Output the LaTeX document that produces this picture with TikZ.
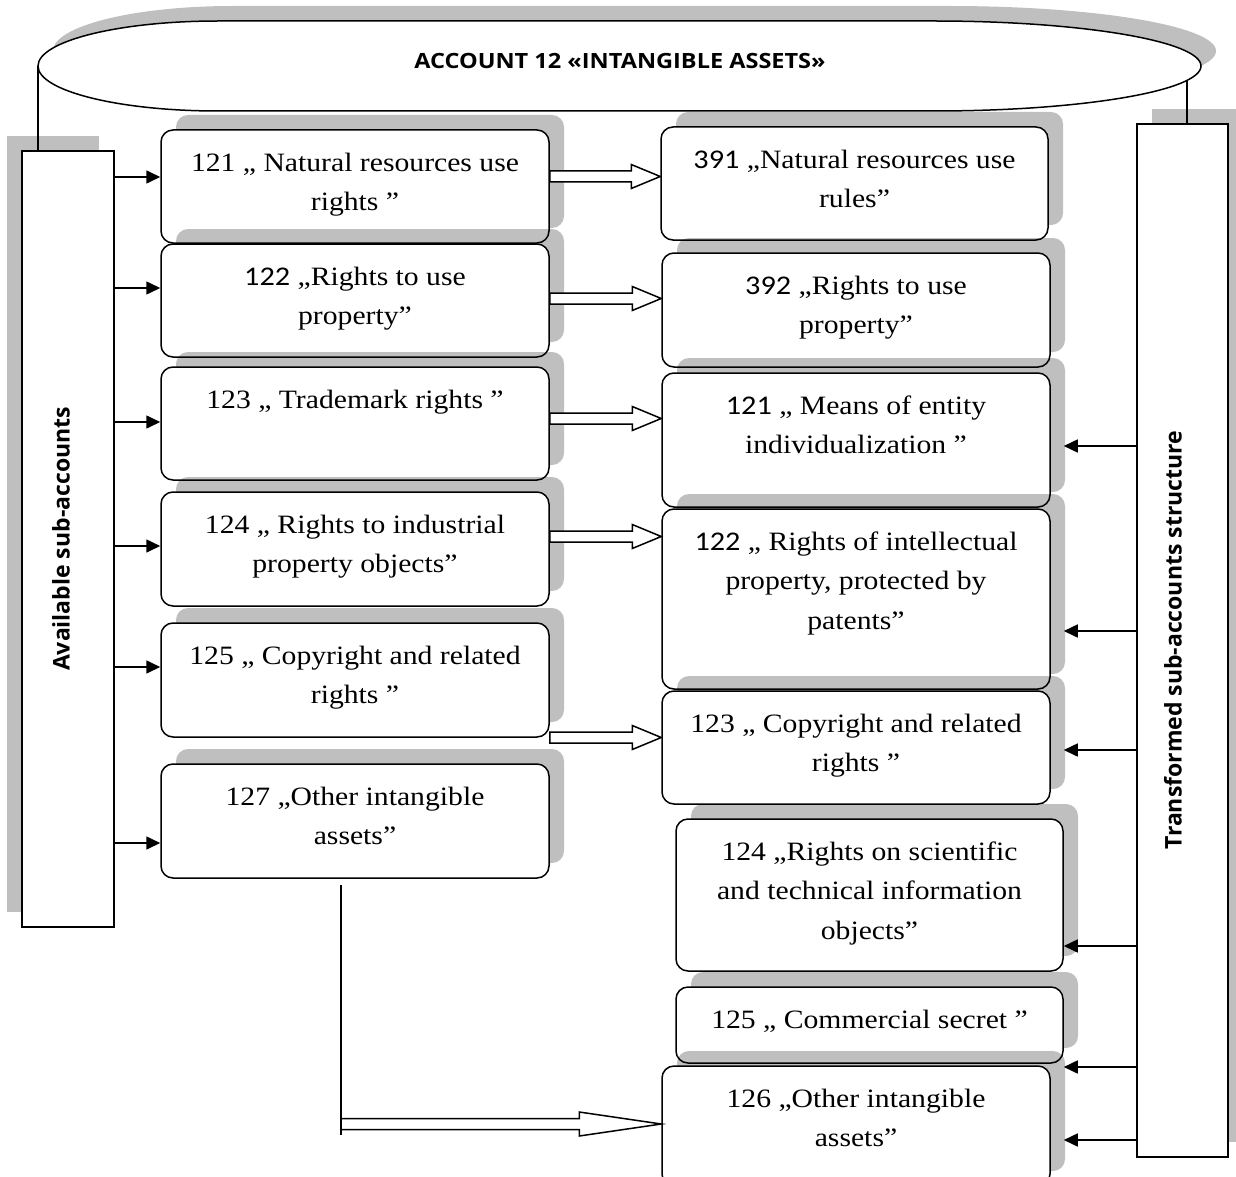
\documentclass[tikz,border=0pt]{standalone}
\usepackage{fontspec}
\setmainfont{Liberation Serif}[FakeStretch=1.12]
\newfontfamily\numfont{Carlito}[FakeStretch=1.12]
\newfontfamily\titlefont{Open Sans}[FakeStretch=1.12]
\newfontfamily\sidefont{Open Sans}
\usetikzlibrary{arrows.meta,calc}
\newcommand\nf[1]{{\numfont\fontsize{27}{39.5}\selectfont #1}}
\newcommand\cbox[6]{%
  \fill[shade] (#2+15,#3-15) rectangle (#4+15,#5-15);
  \node[box, minimum width={#4-#2}, minimum height={#5-#3}] (#1) at ({(#2+#4)/2},{(#3+#5)/2}) {};
  \node[txt] (#1t) at ($(#1.north)+(0,14)$) {\strut #6};
}
\newcommand\blockarr[3]{%
  \draw[barrow] ($(#1)+(0,-5.5)$) -- ($(#2)+(-#3,-5.5)$) -- ($(#2)+(-#3,-12)$) -- (#2)
    -- ($(#2)+(-#3,12)$) -- ($(#2)+(-#3,5.5)$) -- ($(#1)+(0,5.5)$) -- cycle;
}
\begin{document}
\begin{tikzpicture}[x=1pt,y=-1pt,
  box/.style={draw, line width=1.5pt, rounded corners=12pt, fill=white, inner sep=0pt},
  shade/.style={fill=black, fill opacity=0.25, draw=none, rounded corners=12pt},
  bigbox/.style={draw, line width=1.5pt, fill=white, inner sep=0pt},
  txt/.style={anchor=north, inner sep=0pt, align=center, font=\fontsize{26.5}{39.5}\selectfont},
  arr/.style={line width=1.6pt, -{Triangle[length=14pt,width=13pt]}},
  barrow/.style={draw, line width=1.5pt, fill=white, line join=miter},
  conn/.style={line width=1.5pt},
  side/.style={rotate=90, inner sep=0pt, font=\sidefont\bfseries\fontsize{23}{28}\selectfont},
  titlest/.style={inner sep=0pt, font=\titlefont\bfseries\fontsize{21}{25}\selectfont}]
\useasboundingbox (0,0) rectangle (1236,1177);
\clip (0,0) rectangle (1236,1177);
% ellipse
\fill[black, fill opacity=0.25, shift={(15,-15)}] (218,21) -- (934,21)
  arc[start angle=-90,end angle=90,x radius=267,y radius=45] -- (218,111)
  arc[start angle=90,end angle=270,x radius=180,y radius=45] -- cycle;
\draw[conn, fill=white] (218,21) -- (934,21)
  arc[start angle=-90,end angle=90,x radius=267,y radius=45] -- (218,111)
  arc[start angle=90,end angle=270,x radius=180,y radius=45] -- cycle;
\node[titlest] (title) at (620,61) {ACCOUNT 12 «INTANGIBLE ASSETS»};
\coordinate (ellL) at (38,66);
\coordinate (ellR) at (1187,81);
% big side boxes
\fill[black, fill opacity=0.25] (7,136) rectangle (99,912);
\node[bigbox, minimum width=92, minimum height=776] (avail) at (68,539) {};
\fill[black, fill opacity=0.25] (1152,109) rectangle (1243,1142);
\node[bigbox, minimum width=91, minimum height=1033] (trans) at (1182.5,640.5) {};
\draw[conn] (ellL) -- (ellL |- avail.north);
\draw[conn] (ellR) -- (ellR |- trans.north);
\node[side] (availt) at (61,539) {Available sub-accounts};
\node[side] (transt) at (1173,640) {Transformed sub-accounts structure};
% left column
\cbox{L1}{161}{130}{549}{243}{121 „ Natural resources use\\rights ”}
\cbox{L2}{161}{244}{549}{357}{\nf{122} „Rights to use\\property”}
\cbox{L3}{161}{367}{549}{480}{123 „ Trademark rights ”}
\cbox{L4}{161}{492}{549}{606}{124 „ Rights to industrial\\property objects”}
\cbox{L5}{161}{623}{549}{737}{125 „ Copyright and related\\rights ”}
\cbox{L7}{161}{764}{549}{878}{127 „Other intangible\\assets”}
% right column
\cbox{R1}{661}{127}{1048}{240}{\nf{391} „Natural resources use\\rules”}
\cbox{R2}{662}{253}{1050}{367}{\nf{392} „Rights to use\\property”}
\cbox{R3}{662}{373}{1050}{507}{\nf{121} „ Means of entity\\individualization ”}
\cbox{R4}{662}{509}{1050}{689}{\nf{122} „ Rights of intellectual\\property, protected by\\patents”}
\cbox{R5}{662}{691}{1050}{804}{123 „ Copyright and related\\rights ”}
\cbox{R6}{676}{819}{1063}{971}{124 „Rights on scientific\\and technical information\\objects”}
\cbox{R7}{676}{987}{1063}{1063}{125 „ Commercial secret ”}
\cbox{R8}{662}{1066}{1050}{1186}{126 „Other intangible\\assets”}
% left arrows
\draw[arr] (avail.east |- 0,177) -- (L1.west |- 0,177);
\draw[arr] (avail.east |- 0,288) -- (L2.west |- 0,288);
\draw[arr] (avail.east |- 0,422) -- (L3.west |- 0,422);
\draw[arr] (avail.east |- 0,546) -- (L4.west |- 0,546);
\draw[arr] (avail.east |- 0,667) -- (L5.west |- 0,667);
\draw[arr] (avail.east |- 0,843) -- (L7.west |- 0,843);
% right arrows
\draw[arr] (trans.west |- 0,446) -- ($(R3.east |- 0,446)+(13,0)$);
\draw[arr] (trans.west |- 0,631) -- ($(R4.east |- 0,631)+(13,0)$);
\draw[arr] (trans.west |- 0,750) -- ($(R5.east |- 0,750)+(13,0)$);
\draw[arr] (trans.west |- 0,946) -- (R6.east |- 0,946);
\draw[arr] (trans.west |- 0,1067) -- (R7.east |- 0,1067);
\draw[arr] (trans.west |- 0,1140) -- ($(R8.east |- 0,1140)+(13,0)$);
% block arrows
\blockarr{L1.east |- 0,176.5}{R1.west |- 0,176.5}{29}
\blockarr{L2.east |- 0,298.5}{R2.west |- 0,298.5}{29}
\blockarr{L3.east |- 0,418.5}{R3.west |- 0,418.5}{29}
\blockarr{L4.east |- 0,536.5}{R4.west |- 0,536.5}{29}
\blockarr{L5.east |- 0,737.5}{R5.west |- 0,737.5}{29}
\coordinate (c7a) at ($(L7.south)+(-14,6)$);
\coordinate (c7b) at (c7a |- 0,1135);
\draw[conn] (c7a) -- (c7b);
\blockarr{c7a |- 0,1124}{R8.west |- 0,1124}{82}
\end{tikzpicture}
\end{document}
